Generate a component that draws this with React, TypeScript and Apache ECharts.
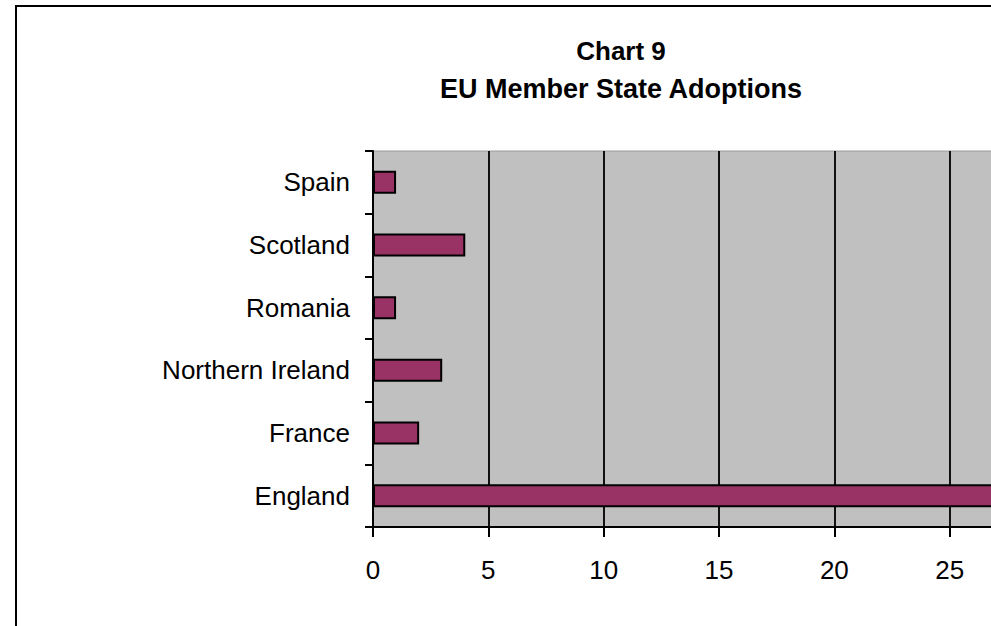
import React, { useEffect, useRef } from "react";
import * as echarts from "echarts";

const categories = ["England", "France", "Northern Ireland", "Romania", "Scotland", "Spain"];
const adoptions = [28, 2, 3, 1, 4, 1];
const titleLines = ["Chart 9", "EU Member State Adoptions"];

export default function App() {
  const ref = useRef<HTMLDivElement>(null);
  useEffect(() => {
    if (!ref.current) return;
    const chart = echarts.init(ref.current, null, { renderer: "svg" });
    const font = '"Liberation Sans", Arial, sans-serif';
    chart.setOption({
      animation: false,
      backgroundColor: "#ffffff",
      graphic: [
        {
          type: "rect",
          shape: { x: 16, y: 6, width: 1200, height: 800 },
          style: { fill: "none", stroke: "#000", lineWidth: 2 },
          silent: true,
        },
        {
          type: "text",
          x: 621,
          y: 51,
          style: {
            text: titleLines[0],
            fontFamily: font,
            fontWeight: "bold",
            fontSize: 26,
            fill: "#000",
            textAlign: "center",
            textVerticalAlign: "middle",
          },
        },
        {
          type: "text",
          x: 621,
          y: 89,
          style: {
            text: titleLines[1],
            fontFamily: font,
            fontWeight: "bold",
            fontSize: 27,
            fill: "#000",
            textAlign: "center",
            textVerticalAlign: "middle",
          },
        },
      ],
      grid: {
        left: 373,
        top: 151,
        bottom: 99,
        right: 35,
        show: true,
        backgroundColor: "#c0c0c0",
        borderColor: "#9a9a9a",
        borderWidth: 1,
        containLabel: false,
      },
      xAxis: {
        type: "value",
        min: 0,
        max: 30,
        interval: 5,
        axisLine: { show: true, lineStyle: { color: "#000", width: 2 } },
        axisTick: { show: true, length: 10, lineStyle: { color: "#000", width: 2 } },
        axisLabel: {
          fontFamily: font,
          fontSize: 26,
          color: "#000",
          margin: 30,
          showMaxLabel: false,
        },
        splitLine: { show: true, lineStyle: { color: "#111", width: 2 } },
      },
      yAxis: {
        type: "category",
        data: categories,
        axisLine: { show: true, lineStyle: { color: "#000", width: 2 } },
        axisTick: { show: true, length: 8, lineStyle: { color: "#000", width: 2 } },
        axisLabel: { fontFamily: font, fontSize: 26, color: "#000", margin: 23 },
        splitLine: { show: false },
      },
      series: [
        {
          type: "bar",
          data: adoptions,
          barWidth: 23,
          itemStyle: { color: "#993366", borderColor: "#000", borderWidth: 2 },
        },
      ],
    });
    return () => chart.dispose();
  }, []);
  return (
    <div
      ref={ref}
      style={{ position: "fixed", left: 0, top: 0, width: 1100, height: 626 }}
    />
  );
}
